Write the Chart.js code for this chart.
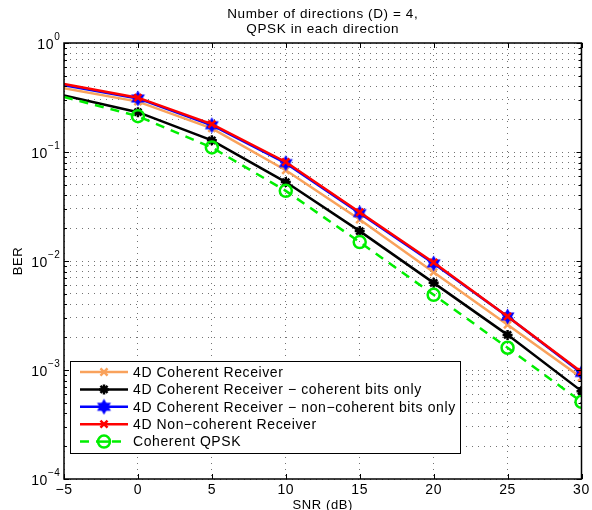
<!DOCTYPE html>
<html>
<head>
<meta charset="utf-8">
<script src="https://cdn.jsdelivr.net/npm/chart.js@4/dist/chart.umd.min.js"></script>
<style>
  html, body { margin: 0; padding: 0; background: #fff; }
  #wrap { width: 592px; height: 510px; }
</style>
</head>
<body>
<div id="wrap"><canvas id="berChart" width="592" height="510"></canvas></div>
<script>
const snr = [-5, 0, 5, 10, 15, 20, 25, 30];

const coherent4D = [0.385, 0.29, 0.165, 0.068, 0.024, 0.0079, 0.0026, 0.00085];
const coherentBitsOnly = [0.33, 0.232, 0.128, 0.053, 0.0188, 0.0063, 0.0021, 0.00064];
const nonCoherentBitsOnly = [0.41, 0.31, 0.176, 0.079, 0.0275, 0.0095, 0.0031, 0.00094];
const nonCoherent4D = [0.42, 0.315, 0.18, 0.081, 0.028, 0.0097, 0.0031, 0.00096];
const coherentQPSK = [0.32, 0.213, 0.11, 0.044, 0.0149, 0.0049, 0.0016, 0.00051];

const seriesLabels = [
    '4D Coherent Receiver',
    '4D Coherent Receiver \u2212 coherent bits only',
    '4D Coherent Receiver \u2212 non\u2212coherent bits only',
    '4D Non\u2212coherent Receiver',
    'Coherent QPSK'
];
const titleLines = ['Number of directions (D) = 4,', 'QPSK in each direction'];
const xTicks = [-5, 0, 5, 10, 15, 20, 25, 30];
const yExponents = [0, -1, -2, -3, -4];

const FONT = 'Liberation Sans, Arial, Helvetica, sans-serif';

// six-pointed star used for the blue series
function hexagram(size, color) {
    const c = document.createElement('canvas');
    c.width = size; c.height = size;
    const g = c.getContext('2d');
    const r = size / 2 - 0.5, cx = size / 2, cy = size / 2;
    g.fillStyle = color;
    for (const off of [-Math.PI / 2, Math.PI / 2]) {
        g.beginPath();
        for (let i = 0; i < 3; i++) {
            const a = off + i * 2 * Math.PI / 3;
            const px = cx + r * Math.cos(a), py = cy + r * Math.sin(a);
            if (i === 0) g.moveTo(px, py); else g.lineTo(px, py);
        }
        g.closePath();
        g.fill();
    }
    return c;
}
const blueStar = hexagram(17, '#0000ff');

function pts(values) {
    return snr.map((x, i) => ({ x: x, y: values[i] }));
}
const hideFirst = r => ctx => (ctx.dataIndex === 0 ? 0 : r);

const styles = [
    { color: '#f9a25c', style: 'crossRot', radius: 5, width: 2.5, dash: [], order: 5 },
    { color: '#000000', style: 'star', radius: 5, width: 2.5, dash: [], order: 4 },
    { color: '#0000ff', style: blueStar, radius: 8, width: 2.5, dash: [], order: 3 },
    { color: '#ff0000', style: 'crossRot', radius: 5, width: 2.5, dash: [], order: 2 },
    { color: '#00ee00', style: 'circle', radius: 6, width: 2.5, dash: [9, 7], order: 1 }
];
const seriesValues = [coherent4D, coherentBitsOnly, nonCoherentBitsOnly, nonCoherent4D, coherentQPSK];

const datasets = seriesValues.map((vals, i) => ({
    label: seriesLabels[i],
    data: pts(vals),
    borderColor: styles[i].color,
    backgroundColor: 'rgba(0,0,0,0)',
    borderWidth: styles[i].width,
    borderDash: styles[i].dash,
    pointStyle: styles[i].style,
    pointRadius: hideFirst(styles[i].radius),
    pointBorderWidth: 2.5,
    pointBorderColor: styles[i].color,
    pointBackgroundColor: 'rgba(0,0,0,0)',
    tension: 0,
    order: styles[i].order
}));

function setFont(ctx, size) {
    ctx.font = size + 'px ' + FONT;
    if ('letterSpacing' in ctx) ctx.letterSpacing = (size >= 13 ? 0.6 : 0.3) + 'px';
}

const decorations = {
    id: 'decorations',
    afterDraw(chart) {
        const { ctx, chartArea: a, scales } = chart;
        const xs = scales.x, ys = scales.y;
        ctx.save();

        // box and inward tick marks
        ctx.strokeStyle = '#000';
        ctx.setLineDash([]);
        ctx.lineWidth = 1.5;
        ctx.strokeRect(a.left, a.top, a.right - a.left, a.bottom - a.top);
        ctx.lineWidth = 1;
        ctx.beginPath();
        xTicks.forEach(v => {
            const px = Math.round(xs.getPixelForValue(v)) + 0.5;
            ctx.moveTo(px, a.bottom); ctx.lineTo(px, a.bottom - 5);
            ctx.moveTo(px, a.top); ctx.lineTo(px, a.top + 5);
        });
        ys.ticks.forEach(t => {
            const major = Math.abs(Math.log10(t.value) - Math.round(Math.log10(t.value))) < 1e-6;
            const len = major ? 5 : 3;
            const py = Math.round(ys.getPixelForValue(t.value)) + 0.5;
            ctx.moveTo(a.left, py); ctx.lineTo(a.left + len, py);
            ctx.moveTo(a.right, py); ctx.lineTo(a.right - len, py);
        });
        ctx.stroke();

        ctx.fillStyle = '#000';

        // x tick labels
        setFont(ctx, 14);
        ctx.textAlign = 'center';
        ctx.textBaseline = 'middle';
        xTicks.forEach(v => {
            const txt = v < 0 ? '\u2212' + Math.abs(v) : String(v);
            ctx.fillText(txt, xs.getPixelForValue(v), 490);
        });

        // y tick labels 10^n
        yExponents.forEach(e => {
            const py = ys.getPixelForValue(Math.pow(10, e));
            const expText = e === 0 ? '0' : '\u2212' + Math.abs(e);
            setFont(ctx, 10);
            const ew = ctx.measureText(expText).width;
            const right = a.left - 4;
            ctx.textAlign = 'left';
            ctx.textBaseline = 'alphabetic';
            ctx.fillText(expText, right - ew, py - 3);
            setFont(ctx, 14);
            ctx.textAlign = 'right';
            ctx.fillText('10', right - ew, py + 6);
        });

        // axis titles
        setFont(ctx, 13);
        ctx.textAlign = 'center';
        ctx.textBaseline = 'middle';
        ctx.fillText('SNR (dB)', (a.left + a.right) / 2, 505);
        ctx.save();
        ctx.translate(18, (a.top + a.bottom) / 2);
        ctx.rotate(-Math.PI / 2);
        ctx.fillText('BER', 0, 0);
        ctx.restore();

        // title
        setFont(ctx, 13.5);
        titleLines.forEach((line, i) => ctx.fillText(line, (a.left + a.right) / 2, 14 + i * 15));

        // legend
        const lx = 70, ly = 361, lw = 390, lh = 92;
        ctx.fillStyle = '#fff';
        ctx.fillRect(lx, ly, lw, lh);
        ctx.strokeStyle = '#000';
        ctx.lineWidth = 1;
        ctx.strokeRect(lx + 0.5, ly + 0.5, lw, lh);
        chart.data.datasets.forEach((ds, i) => {
            const ry = 372 + i * 17.4;
            ctx.strokeStyle = ds.borderColor;
            ctx.lineWidth = ds.borderWidth;
            ctx.setLineDash(ds.borderDash);
            ctx.beginPath();
            ctx.moveTo(80, ry); ctx.lineTo(128, ry);
            ctx.stroke();
            ctx.setLineDash([]);
            ctx.fillStyle = 'rgba(0,0,0,0)';
            if (i === 4) {
                ctx.fillStyle = '#fff';
                ctx.beginPath();
                ctx.arc(104, ry, styles[i].radius, 0, 2 * Math.PI);
                ctx.fill();
                ctx.fillStyle = 'rgba(0,0,0,0)';
                ctx.beginPath();
                ctx.moveTo(99, ry); ctx.lineTo(109, ry);
                ctx.stroke();
            }
            Chart.helpers.drawPoint(ctx, {
                pointStyle: ds.pointStyle,
                radius: styles[i].radius,
                borderWidth: ds.pointBorderWidth,
                rotation: 0
            }, 104, ry);
            ctx.fillStyle = '#000';
            setFont(ctx, 14);
            ctx.textAlign = 'left';
            ctx.textBaseline = 'middle';
            ctx.fillText(ds.label, 133, ry + 1);
        });
        ctx.restore();
    }
};

new Chart(document.getElementById('berChart'), {
    type: 'line',
    data: { datasets: datasets },
    options: {
        responsive: false,
        animation: false,
        layout: { padding: { top: 43, right: 9, left: 0, bottom: 0 } },
        plugins: {
            legend: { display: false },
            title: { display: false },
            tooltip: { enabled: false }
        },
        scales: {
            x: {
                type: 'linear',
                min: -5,
                max: 30,
                afterBuildTicks: s => { s.ticks = xTicks.map(v => ({ value: v })); },
                afterFit: s => { s.height = 31; },
                ticks: { display: false },
                grid: { color: 'rgba(0,0,0,0.55)', lineWidth: 1, drawTicks: false },
                border: { display: false, dash: [1, 5] }
            },
            y: {
                type: 'logarithmic',
                min: 1e-4,
                max: 1,
                afterBuildTicks: s => {
                    const t = [];
                    for (let e = -4; e < 0; e++) {
                        for (let m = 1; m <= 9; m++) t.push({ value: m * Math.pow(10, e) });
                    }
                    t.push({ value: 1 });
                    s.ticks = t;
                },
                afterFit: s => { s.width = 64; },
                ticks: { display: false },
                grid: { color: 'rgba(0,0,0,0.55)', lineWidth: 1, drawTicks: false },
                border: { display: false, dash: [1, 5] }
            }
        }
    },
    plugins: [decorations]
});
</script>
</body>
</html>
